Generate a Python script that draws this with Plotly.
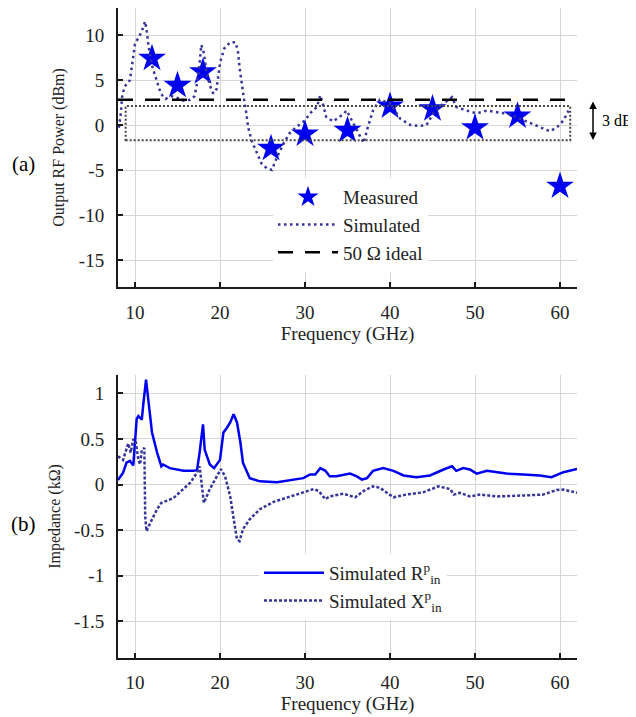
import plotly.graph_objects as go

# ---------------- data ----------------
meas_f = [12, 15, 18, 26, 30, 35, 40, 45, 50, 55, 60]
meas_p = [7.4, 4.4, 5.9, -2.6, -1.0, -0.6, 2.1, 1.8, -0.3, 1.0, -6.8]

sim_f = [8.1, 8.3, 8.5, 8.8, 9.1, 9.4, 9.6, 9.8, 10.0, 10.4, 10.8, 11.0, 11.2, 11.4, 11.6,
         12.0, 12.5, 12.9, 13.2, 13.6, 14.3, 15.0, 15.7, 16.5, 17.0, 17.3, 17.6, 17.8, 18.1,
         18.4, 18.8, 19.2, 19.6, 20.0, 20.5, 21.2, 21.8, 22.1, 22.3, 22.6, 22.8, 23.1, 23.3,
         23.7, 24.3, 24.9, 25.5, 26.1, 26.7, 27.5, 28.2, 29.0, 30.0, 30.6, 31.4, 31.8, 32.2,
         32.5, 33.3, 34.5, 34.9, 35.7, 36.5, 36.9, 37.4, 38.0, 38.8, 40.0, 41.2, 42.4, 43.5,
         44.3, 45.1, 46.3, 47.3, 47.8, 49.0, 50.2, 51.4, 52.9, 54.1, 55.3, 56.5, 57.6, 58.8,
         59.6, 60.4, 61.0]
sim_p = [-0.3, 1.0, 3.3, 4.3, 4.6, 5.0, 6.3, 7.5, 9.0, 9.7, 10.4, 11.0, 11.5, 10.3, 8.7,
         6.6, 5.0, 3.9, 3.3, 2.9, 3.2, 3.0, 2.7, 2.8, 3.2, 4.6, 6.8, 8.9, 8.0,
         6.0, 4.4, 3.5, 4.0, 6.9, 8.5, 9.2, 9.2, 8.3, 6.4, 4.2, 3.0, 1.3, -0.2,
         -1.7, -3.1, -4.3, -4.8, -5.0, -3.6, -2.0, -0.9, -0.2, 0.5, 1.3, 2.0, 3.3, 2.0,
         0.9, 0.4, 1.2, 1.6, 0.2, -1.3, -2.0, -0.2, 1.6, 2.8, 2.4, 0.7, 0.0, -0.1,
         0.0, 1.3, 2.4, 3.1, 2.0, 1.6, 1.3, 1.6, 1.4, 1.2, 0.7, 0.2, -0.2, -0.7,
         -0.3, 0.5, 1.6]

ideal_f = [8, 62]
ideal_p = [2.8, 2.8]

box_f = [8.9, 61.2]
box_p = [-1.7, 2.1]
arrow_p = [2.6, -1.9]

r_f = [8.0, 8.6, 9.0, 9.4, 9.8, 10.2, 10.4, 10.8, 11.0, 11.3, 11.6, 12.0, 12.6, 13.1, 13.3,
       14.1, 15.7, 16.9, 17.3, 17.6, 18.0, 18.2, 18.8, 19.3, 20.0, 20.4, 20.8, 21.2, 21.6,
       22.0, 22.4, 22.7, 23.5, 24.7, 26.7, 28.2, 29.8, 30.6, 31.2, 31.8, 32.4, 32.9, 33.7,
       35.3, 36.1, 36.7, 37.3, 38.0, 39.2, 40.4, 41.6, 43.1, 44.7, 46.3, 47.3, 47.8, 48.6,
       49.4, 50.2, 51.4, 53.7, 55.7, 57.6, 59.0, 60.4, 62.0]
r_z = [0.05, 0.13, 0.24, 0.26, 0.21, 0.72, 0.75, 0.71, 0.9, 1.15, 0.9, 0.57, 0.35, 0.2, 0.22,
       0.18, 0.15, 0.15, 0.16, 0.35, 0.66, 0.38, 0.22, 0.18, 0.27, 0.57, 0.62, 0.68, 0.77,
       0.68, 0.46, 0.24, 0.07, 0.035, 0.026, 0.05, 0.07, 0.11, 0.11, 0.18, 0.15, 0.09, 0.09,
       0.12, 0.09, 0.055, 0.07, 0.15, 0.18, 0.15, 0.1, 0.08, 0.1, 0.165, 0.2, 0.15, 0.18,
       0.165, 0.12, 0.15, 0.12, 0.11, 0.1, 0.08, 0.135, 0.17]

x_f = [8.0, 8.6, 9.2, 9.5, 9.8, 10.1, 10.4, 10.6, 10.8, 11.1, 11.2, 11.35, 11.8, 12.6, 13.1,
       14.5, 16.5, 17.3, 17.6, 18.1, 18.8, 19.6, 20.1, 20.6, 21.2, 21.6, 22.0, 22.3, 22.7,
       23.5, 24.7, 26.3, 28.2, 29.8, 31.0, 31.6, 32.4, 32.9, 34.5, 35.9, 36.9, 38.0, 38.8,
       40.4, 41.9, 43.9, 45.7, 47.1, 47.5, 48.2, 49.4, 50.6, 52.6, 55.7, 58.0, 59.6, 60.4,
       62.0]
x_z = [0.31, 0.27, 0.45, 0.35, 0.5, 0.46, 0.27, 0.22, 0.38, 0.4, -0.35, -0.51, -0.42, -0.27, -0.2,
       -0.15, 0.02, 0.13, 0.2, -0.2, -0.05, 0.09, 0.17, 0.09, -0.13, -0.37, -0.6, -0.62, -0.49,
       -0.38, -0.27, -0.19, -0.13, -0.085, -0.05, -0.07, -0.16, -0.13, -0.1, -0.14, -0.07, -0.02, -0.035,
       -0.14, -0.11, -0.085, -0.02, -0.05, -0.11, -0.09, -0.13, -0.11, -0.13, -0.12, -0.11, -0.06, -0.055,
       -0.09]

x_ticks = [10, 20, 30, 40, 50, 60]
p_ticks = [10, 5, 0, -5, -10, -15]
p_ticktext = ["10", "5", "0", "-5", "-10", "-15"]
z_ticks = [1, 0.5, 0, -0.5, -1, -1.5]
z_ticktext = ["1", "0.5", "0", "-0.5", "-1", "-1.5"]

# ---------------- style ----------------
FONT = "Liberation Serif"
BLUE = "#0000f0"
NAVY = "#34349a"
GRID = "#d6d6d6"

# the page body adds an 8px offset; the figure fills the rest of the window
OFF = 8
W, H = 636 - OFF, 717 - OFF
def px_x(p):
    return (p - OFF) / W
def px_y(p):
    return 1 - (p - OFF) / H

fig = go.Figure()

fig.add_trace(go.Scatter(x=meas_f, y=meas_p, mode="markers", name="Measured",
                         marker=dict(symbol="star", size=21, color=BLUE, line=dict(width=0)),
                         xaxis="x", yaxis="y", legend="legend"))
fig.add_trace(go.Scatter(x=sim_f, y=sim_p, mode="lines", name="Simulated",
                         line=dict(color=NAVY, width=2.5, dash="2.5px,3.5px"),
                         xaxis="x", yaxis="y", legend="legend"))
fig.add_trace(go.Scatter(x=ideal_f, y=ideal_p, mode="lines", name="50 Ω ideal",
                         line=dict(color="black", width=2.5, dash="15px,12px"),
                         xaxis="x", yaxis="y", legend="legend"))

fig.add_trace(go.Scatter(x=r_f, y=r_z, mode="lines", name="Simulated R<sup>p</sup><sub>in</sub>",
                         line=dict(color=BLUE, width=2.5),
                         xaxis="x2", yaxis="y2", legend="legend2"))
fig.add_trace(go.Scatter(x=x_f, y=x_z, mode="lines", name="Simulated X<sup>p</sup><sub>in</sub>",
                         line=dict(color=NAVY, width=2.5, dash="3px,2px"),
                         xaxis="x2", yaxis="y2", legend="legend2"))

# dotted 3 dB box
fig.add_shape(type="rect", xref="x", yref="y", x0=box_f[0], x1=box_f[1], y0=box_p[0], y1=box_p[1],
              line=dict(color="#444444", width=2, dash="2px,2px"), layer="above")

# 3 dB arrow and text
fig.add_annotation(xref="paper", yref="y", x=px_x(593), y=arrow_p[0],
                   axref="pixel", ayref="pixel", ax=0, ay=40,
                   showarrow=True, arrowhead=2, startarrowhead=2, arrowside="end+start",
                   arrowsize=1, startarrowsize=1, arrowwidth=1.5, arrowcolor="black", text="")
fig.add_annotation(xref="paper", yref="paper", x=px_x(600), y=px_y(121), xanchor="left",
                   yanchor="middle", text="3 dB", showarrow=False,
                   font=dict(family=FONT, size=16, color="black"))

# panel labels
fig.add_annotation(xref="paper", yref="paper", x=px_x(23), y=px_y(164), text="(a)",
                   xanchor="center", yanchor="middle",
                   showarrow=False, font=dict(family=FONT, size=21, color="black"))
fig.add_annotation(xref="paper", yref="paper", x=px_x(23), y=px_y(524), text="(b)",
                   xanchor="center", yanchor="middle",
                   showarrow=False, font=dict(family=FONT, size=21, color="black"))

xdom = [px_x(118), px_x(577)]
axis_common = dict(showgrid=True, gridcolor=GRID, gridwidth=1, showline=True, linecolor="#1a1a1a",
                   linewidth=2, ticks="inside", ticklen=5, tickwidth=2, tickcolor="#1a1a1a",
                   zeroline=False, mirror=False,
                   tickfont=dict(family=FONT, size=19, color="#222222"))

fig.update_layout(
    width=W, height=H,
    margin=dict(l=0, r=0, t=0, b=0, autoexpand=False),
    paper_bgcolor="white", plot_bgcolor="white",
    font=dict(family=FONT, color="#222222"),
    xaxis=dict(domain=xdom, range=[8, 62], tickvals=x_ticks, anchor="y",
               title=dict(text="Frequency (GHz)", font=dict(family=FONT, size=19), standoff=4),
               ticklabelstandoff=7, **axis_common),
    yaxis=dict(domain=[px_y(287), px_y(8)], range=[-18, 13], tickvals=p_ticks, ticktext=p_ticktext,
               anchor="x",
               title=dict(text="Output RF Power (dBm)", font=dict(family=FONT, size=16), standoff=10),
               ticklabelstandoff=8, **axis_common),
    xaxis2=dict(domain=xdom, range=[8, 62], tickvals=x_ticks, anchor="y2",
                title=dict(text="Frequency (GHz)", font=dict(family=FONT, size=19), standoff=2),
                ticklabelstandoff=6, **axis_common),
    yaxis2=dict(domain=[px_y(658), px_y(375)], range=[-1.9, 1.2], tickvals=z_ticks, ticktext=z_ticktext,
                anchor="x2",
                title=dict(text="Impedance (kΩ)", font=dict(family=FONT, size=16), standoff=10),
                ticklabelstandoff=8, **axis_common),
    legend=dict(x=px_x(273), y=px_y(178), xanchor="left", yanchor="top", bgcolor="white",
                borderwidth=0, font=dict(family=FONT, size=19, color="#222222"),
                tracegroupgap=0, itemwidth=60),
    legend2=dict(x=px_x(259), y=px_y(554), xanchor="left", yanchor="top", bgcolor="white",
                 borderwidth=0, font=dict(family=FONT, size=19, color="#222222"),
                 tracegroupgap=0, itemwidth=60),
    showlegend=True,
)

fig.write_html("out.html")
